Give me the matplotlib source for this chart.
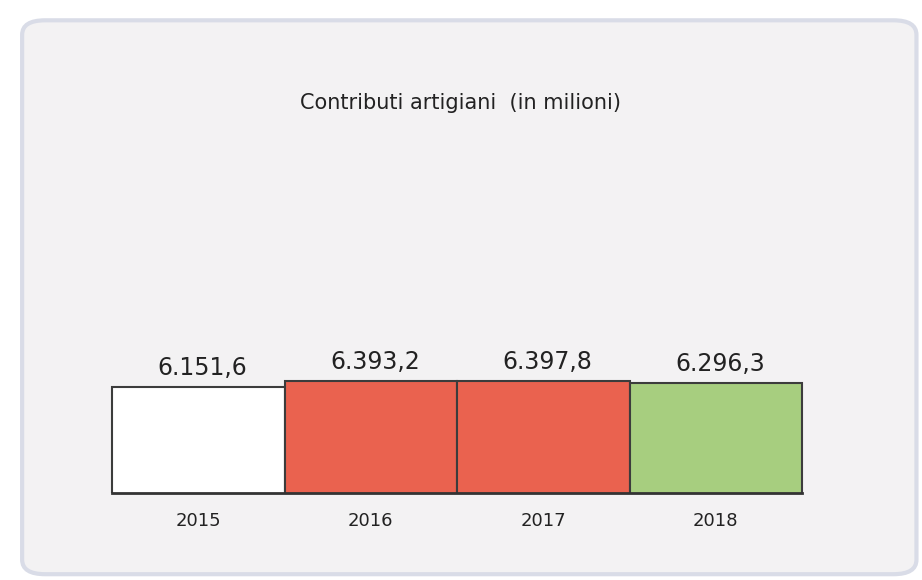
import matplotlib.pyplot as plt
from matplotlib.patches import FancyBboxPatch

# data
years = ["2015", "2016", "2017", "2018"]
values = [6151.6, 6393.2, 6397.8, 6296.3]
labels = ["6.151,6", "6.393,2", "6.397,8", "6.296,3"]
colors = ["#ffffff", "#ea624f", "#ea624f", "#a7ce7f"]

fig = plt.figure(figsize=(9.22, 5.8), dpi=100)
fig.patch.set_facecolor("white")

# rounded card behind the chart
card = FancyBboxPatch((0.024, 0.01), 0.97, 0.955,
                      boxstyle="round,pad=0,rounding_size=0.025",
                      transform=fig.transFigure, facecolor="#f3f2f3",
                      edgecolor="#d9dce7", linewidth=3, zorder=-5)
fig.add_artist(card)

ax = fig.add_axes([0.1196, 0.15, 0.7522, 0.333])
ax.set_zorder(2)
ax.patch.set_visible(False)

x = range(len(years))
ax.bar(x, values, width=1.0, color=colors, edgecolor="#3c3c3c", linewidth=1.5)

ax.set_xlim(-0.51, 3.51)
ax.set_ylim(1800, 9700)

for i, (v, lab) in enumerate(zip(values, labels)):
    ax.annotate(lab, (i, v), xytext=(3, 5), textcoords="offset points",
                ha="center", va="bottom", fontsize=17, color="#222222")

ax.set_xticks(list(x))
ax.set_xticklabels(years, fontsize=13, color="#222222")
ax.tick_params(axis="x", length=0, pad=14)
ax.set_yticks([])
for s in ax.spines.values():
    s.set_visible(False)
# dark base line under the boxes
ax.spines["bottom"].set_visible(True)
ax.spines["bottom"].set_bounds(-0.5, 3.5)
ax.spines["bottom"].set_color("#333333")
ax.spines["bottom"].set_linewidth(2)

fig.text(0.499, 0.822, "Contributi artigiani  (in milioni)", ha="center",
         va="center", fontsize=15, color="#222222", zorder=3)

fig.savefig("out.png", dpi=100)
